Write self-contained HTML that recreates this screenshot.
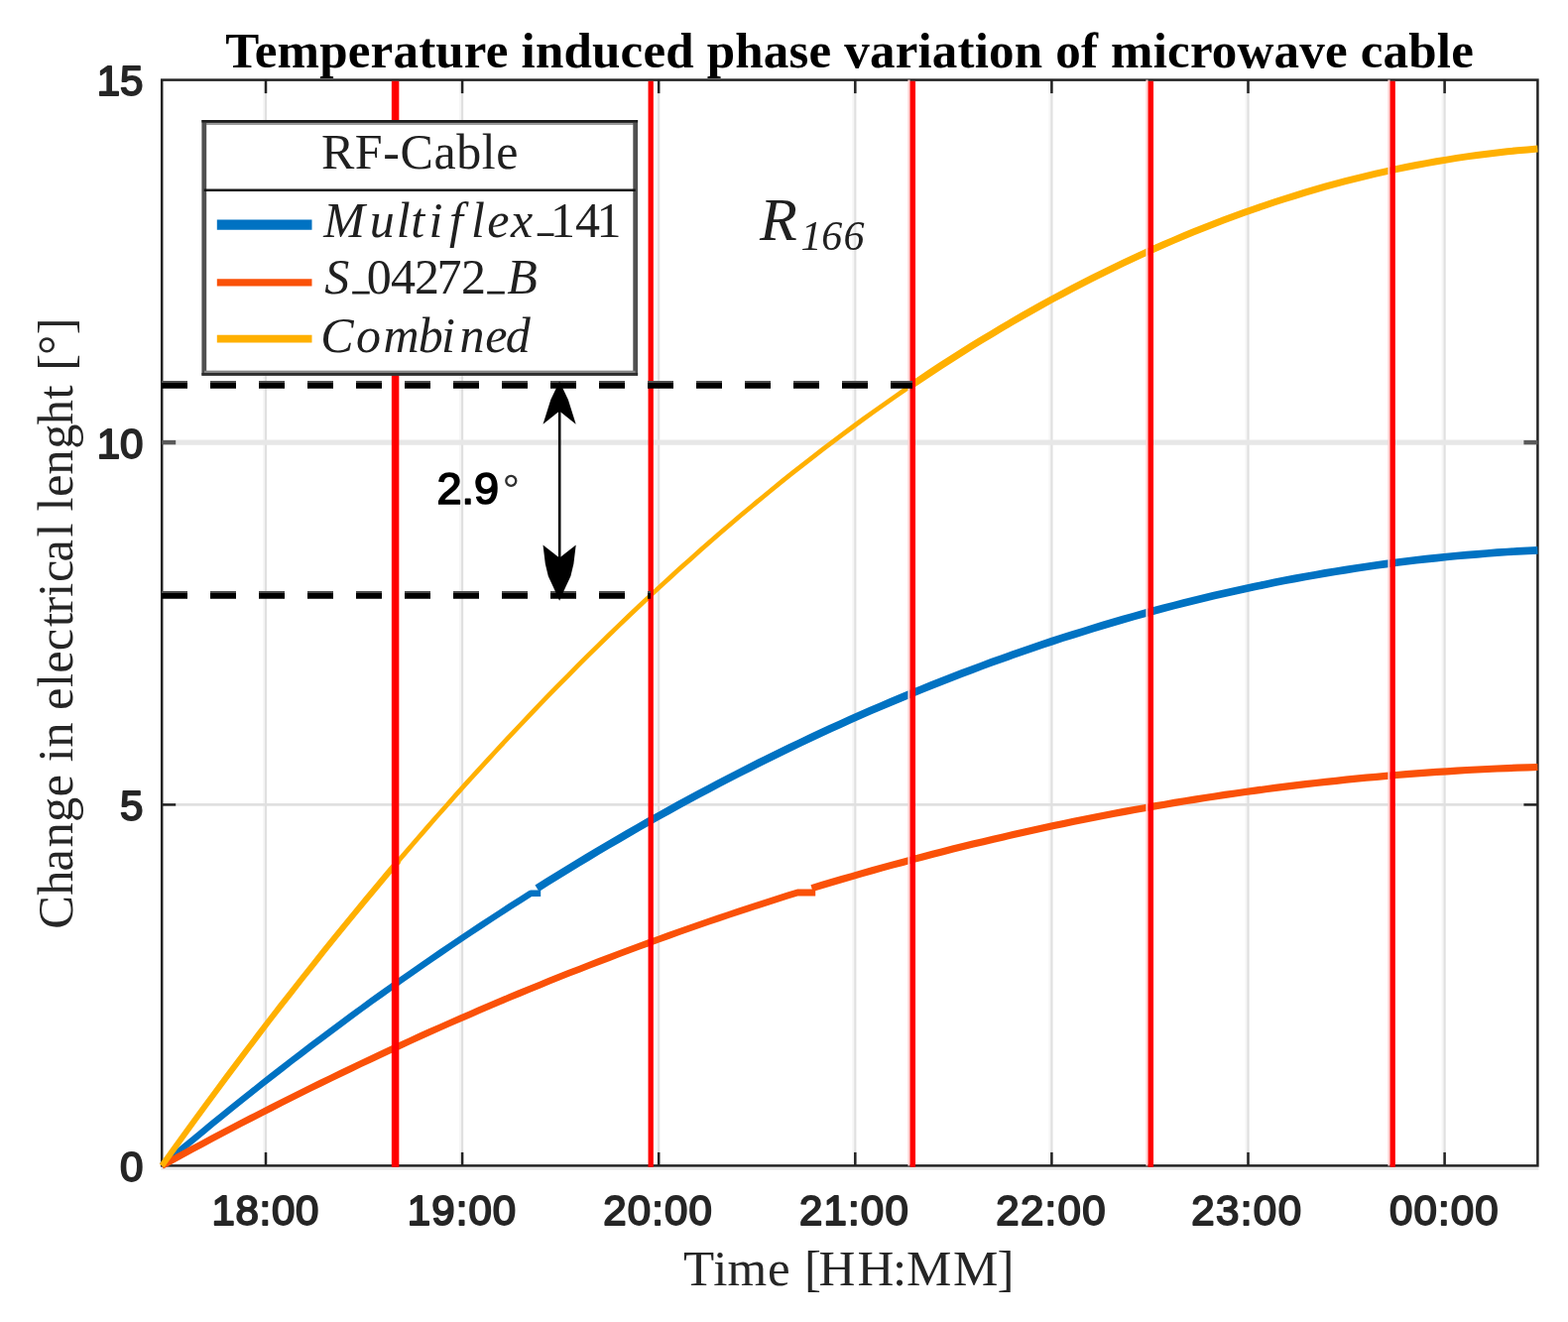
<!DOCTYPE html>
<html lang="en"><head><meta charset="utf-8"><title>Temperature induced phase variation of microwave cable</title>
<style>html,body{margin:0;padding:0;background:#fff}body{width:1581px;height:1333px;overflow:hidden}svg{display:block}.ser{font-family:"Liberation Serif","DejaVu Serif",serif}.san{font-family:"Liberation Sans","DejaVu Sans",sans-serif;font-weight:bold}</style></head><body>
<svg width="1581" height="1333" viewBox="0 0 1581 1333" role="img" aria-label="Temperature induced phase variation of microwave cable">
<rect width="1581" height="1333" fill="#ffffff"/>
<g stroke="#e0e0e0" fill="none">
<line x1="266.0" y1="80.6" x2="266.0" y2="1175.4" stroke-width="2" stroke="#f6f6f6"/>
<line x1="268.0" y1="80.6" x2="268.0" y2="1175.4" stroke-width="2.2"/>
<line x1="464.1" y1="80.6" x2="464.1" y2="1175.4" stroke-width="2" stroke="#f6f6f6"/>
<line x1="466.1" y1="80.6" x2="466.1" y2="1175.4" stroke-width="2.2"/>
<line x1="662.2" y1="80.6" x2="662.2" y2="1175.4" stroke-width="2" stroke="#f6f6f6"/>
<line x1="664.2" y1="80.6" x2="664.2" y2="1175.4" stroke-width="2.2"/>
<line x1="860.3" y1="80.6" x2="860.3" y2="1175.4" stroke-width="2" stroke="#f6f6f6"/>
<line x1="862.3" y1="80.6" x2="862.3" y2="1175.4" stroke-width="2.2"/>
<line x1="1058.4" y1="80.6" x2="1058.4" y2="1175.4" stroke-width="2" stroke="#f6f6f6"/>
<line x1="1060.4" y1="80.6" x2="1060.4" y2="1175.4" stroke-width="2.2"/>
<line x1="1256.5" y1="80.6" x2="1256.5" y2="1175.4" stroke-width="2" stroke="#f6f6f6"/>
<line x1="1258.5" y1="80.6" x2="1258.5" y2="1175.4" stroke-width="2.2"/>
<line x1="1454.6" y1="80.6" x2="1454.6" y2="1175.4" stroke-width="2" stroke="#f6f6f6"/>
<line x1="1456.6" y1="80.6" x2="1456.6" y2="1175.4" stroke-width="2.2"/>
<line x1="163.2" y1="811.4" x2="1550.4" y2="811.4" stroke-width="2.6"/>
<line x1="163.2" y1="446.1" x2="1550.4" y2="446.1" stroke-width="5.2" stroke="#e7e7e7"/>
</g>
<g stroke="#222222" fill="none" stroke-width="2.5">
<rect x="163.2" y="80.6" width="1387.2" height="1094.8"/>
<line x1="268.0" y1="1175.4" x2="268.0" y2="1161.9"/>
<line x1="268.0" y1="80.6" x2="268.0" y2="94.1"/>
<line x1="466.1" y1="1175.4" x2="466.1" y2="1161.9"/>
<line x1="466.1" y1="80.6" x2="466.1" y2="94.1"/>
<line x1="664.2" y1="1175.4" x2="664.2" y2="1161.9"/>
<line x1="664.2" y1="80.6" x2="664.2" y2="94.1"/>
<line x1="862.3" y1="1175.4" x2="862.3" y2="1161.9"/>
<line x1="862.3" y1="80.6" x2="862.3" y2="94.1"/>
<line x1="1060.4" y1="1175.4" x2="1060.4" y2="1161.9"/>
<line x1="1060.4" y1="80.6" x2="1060.4" y2="94.1"/>
<line x1="1258.5" y1="1175.4" x2="1258.5" y2="1161.9"/>
<line x1="1258.5" y1="80.6" x2="1258.5" y2="94.1"/>
<line x1="1456.6" y1="1175.4" x2="1456.6" y2="1161.9"/>
<line x1="1456.6" y1="80.6" x2="1456.6" y2="94.1"/>
<line x1="163.2" y1="811.4" x2="177.2" y2="811.4"/>
<line x1="1550.4" y1="811.4" x2="1536.4" y2="811.4"/>
<line x1="163.2" y1="446.1" x2="177.2" y2="446.1" stroke="#5a5a5a" stroke-width="4.4"/>
<line x1="1550.4" y1="446.1" x2="1536.4" y2="446.1" stroke="#5a5a5a" stroke-width="4.4"/>
</g>
<line x1="162.2" y1="1178.4" x2="1551.4" y2="1178.4" stroke="#e2e2e2" stroke-width="2"/>
<g fill="none" stroke-linejoin="round">
<path d="M163.2,1175.4 L173.3,1166.9 L183.3,1158.5 L193.4,1150.2 L203.4,1141.9 L213.5,1133.6 L223.5,1125.4 L233.6,1117.3 L243.6,1109.3 L253.7,1101.3 L263.7,1093.3 L273.8,1085.4 L283.8,1077.6 L293.9,1069.8 L304.0,1062.1 L314.0,1054.4 L324.1,1046.9 L334.1,1039.3 L344.2,1031.8 L354.2,1024.4 L364.3,1017.0 L374.3,1009.7 L384.4,1002.5 L394.4,995.3 L404.5,988.2 L414.6,981.1 L424.6,974.1 L434.7,967.1 L444.7,960.2 L454.8,953.4 L464.8,946.6 L474.9,939.9 L484.9,933.2 L495.0,926.6 L505.0,920.1 L515.1,913.6 L525.1,907.2 L535.2,900.8 L545.2,900.8" stroke="#0072c2" stroke-width="6.5"/>
<path d="M541.5,895.7 L551.7,889.3 L561.9,883.0 L572.1,876.7 L582.3,870.5 L592.5,864.4 L602.6,858.3 L612.8,852.2 L623.0,846.3 L633.2,840.4 L643.4,834.5 L653.6,828.7 L663.8,823.0 L674.0,817.3 L684.2,811.7 L694.4,806.2 L704.6,800.7 L714.7,795.3 L724.9,789.9 L735.1,784.6 L745.3,779.4 L755.5,774.2 L765.7,769.0 L775.9,764.0 L786.1,759.0 L796.3,754.0 L806.5,749.1 L816.7,744.3 L826.8,739.5 L837.0,734.8 L847.2,730.2 L857.4,725.6 L867.6,721.1 L877.8,716.6 L888.0,712.2 L898.2,707.9 L908.4,703.6 L918.6,699.4 L928.8,695.2 L938.9,691.1 L949.1,687.1 L959.3,683.1 L969.5,679.1 L979.7,675.3 L989.9,671.5 L1000.1,667.7 L1010.3,664.1 L1020.5,660.4 L1030.7,656.9 L1040.9,653.4 L1051.0,649.9 L1061.2,646.5 L1071.4,643.2 L1081.6,640.0 L1091.8,636.8 L1102.0,633.6 L1112.2,630.5 L1122.4,627.5 L1132.6,624.5 L1142.8,621.6 L1153.0,618.8 L1163.1,616.0 L1173.3,613.3 L1183.5,610.6 L1193.7,608.0 L1203.9,605.5 L1214.1,603.0 L1224.3,600.6 L1234.5,598.2 L1244.7,595.9 L1254.9,593.7 L1265.1,591.5 L1275.2,589.4 L1285.4,587.3 L1295.6,585.3 L1305.8,583.4 L1316.0,581.5 L1326.2,579.7 L1336.4,577.9 L1346.6,576.2 L1356.8,574.6 L1367.0,573.0 L1377.2,571.5 L1387.3,570.0 L1397.5,568.6 L1407.7,567.3 L1417.9,566.0 L1428.1,564.8 L1438.3,563.6 L1448.5,562.6 L1458.7,561.5 L1468.9,560.5 L1479.1,559.6 L1489.3,558.8 L1499.4,558.0 L1509.6,557.2 L1519.8,556.5 L1530.0,555.9 L1540.2,555.4 L1550.4,554.9" stroke="#0072c2" stroke-width="7.7"/>
<path d="M163.2,1175.4 L173.2,1169.9 L183.2,1164.5 L193.2,1159.0 L203.3,1153.7 L213.3,1148.3 L223.3,1143.0 L233.3,1137.8 L243.3,1132.5 L253.3,1127.4 L263.4,1122.2 L273.4,1117.1 L283.4,1112.0 L293.4,1107.0 L303.4,1102.0 L313.4,1097.0 L323.4,1092.1 L333.5,1087.2 L343.5,1082.4 L353.5,1077.6 L363.5,1072.8 L373.5,1068.1 L383.5,1063.4 L393.6,1058.7 L403.6,1054.1 L413.6,1049.5 L423.6,1044.9 L433.6,1040.4 L443.6,1036.0 L453.7,1031.5 L463.7,1027.1 L473.7,1022.8 L483.7,1018.4 L493.7,1014.2 L503.7,1009.9 L513.7,1005.7 L523.8,1001.5 L533.8,997.4 L543.8,993.3 L553.8,989.2 L563.8,985.2 L573.8,981.2 L583.9,977.3 L593.9,973.4 L603.9,969.5 L613.9,965.7 L623.9,961.9 L633.9,958.1 L644.0,954.4 L654.0,950.7 L664.0,947.1 L674.0,943.5 L684.0,939.9 L694.0,936.4 L704.0,932.9 L714.1,929.4 L724.1,926.0 L734.1,922.6 L744.1,919.3 L754.1,916.0 L764.1,912.7 L774.2,909.5 L784.2,906.3 L794.2,903.1 L804.2,900.0 L822.2,900.0" stroke="#fa5108" stroke-width="6.8"/>
<path d="M818.5,895.6 L828.7,892.5 L838.8,889.5 L849.0,886.5 L859.2,883.6 L869.3,880.6 L879.5,877.8 L889.7,874.9 L899.8,872.1 L910.0,869.4 L920.2,866.6 L930.3,864.0 L940.5,861.3 L950.6,858.7 L960.8,856.1 L971.0,853.6 L981.1,851.1 L991.3,848.7 L1001.5,846.2 L1011.6,843.9 L1021.8,841.5 L1032.0,839.2 L1042.1,837.0 L1052.3,834.8 L1062.5,832.6 L1072.6,830.4 L1082.8,828.3 L1093.0,826.3 L1103.1,824.2 L1113.3,822.3 L1123.5,820.3 L1133.6,818.4 L1143.8,816.5 L1154.0,814.7 L1164.1,812.9 L1174.3,811.2 L1184.5,809.4 L1194.6,807.8 L1204.8,806.1 L1214.9,804.5 L1225.1,803.0 L1235.3,801.4 L1245.4,800.0 L1255.6,798.5 L1265.8,797.1 L1275.9,795.7 L1286.1,794.4 L1296.3,793.1 L1306.4,791.9 L1316.6,790.7 L1326.8,789.5 L1336.9,788.4 L1347.1,787.3 L1357.3,786.2 L1367.4,785.2 L1377.6,784.2 L1387.8,783.3 L1397.9,782.4 L1408.1,781.5 L1418.3,780.7 L1428.4,779.9 L1438.6,779.1 L1448.7,778.4 L1458.9,777.8 L1469.1,777.1 L1479.2,776.5 L1489.4,776.0 L1499.6,775.5 L1509.7,775.0 L1519.9,774.6 L1530.1,774.2 L1540.2,773.8 L1550.4,773.5" stroke="#fa5108" stroke-width="7.2"/>
<path d="M163.2,1175.4 L174.1,1160.2 L184.9,1145.2 L195.8,1130.2 L206.6,1115.4 L217.5,1100.7 L228.3,1086.1 L239.2,1071.6 L250.0,1057.2 L260.9,1042.9 L271.7,1028.8 L282.6,1014.7 L293.5,1000.8 L304.3,987.0 L315.2,973.3 L326.0,959.7 L336.9,946.2 L347.7,932.9 L358.6,919.6 L369.4,906.5 L380.3,893.5 L391.1,880.5 L402.0,867.7" stroke="#ffb000" stroke-width="6.0"/>
<path d="M398.0,872.4 L408.3,860.4 L418.5,848.4 L428.8,836.6 L439.1,824.8 L449.4,813.2 L459.6,801.6 L469.9,790.2 L480.2,778.8 L490.5,767.6 L500.7,756.5 L511.0,745.4 L521.3,734.5 L531.6,723.6 L541.8,712.9 L552.1,702.2 L562.4,691.7 L572.7,681.3 L582.9,670.9 L593.2,660.7 L603.5,650.6 L613.8,640.5 L624.0,630.6 L634.3,620.8 L644.6,611.0 L654.9,601.4 L665.1,591.9 L675.4,582.5 L685.7,573.1 L696.0,563.9 L706.2,554.8 L716.5,545.8 L726.8,536.8 L737.1,528.0 L747.3,519.3 L757.6,510.7 L767.9,502.2 L778.2,493.7 L788.4,485.4 L798.7,477.2 L809.0,469.1 L819.3,461.1 L829.5,453.2 L839.8,445.4 L850.1,437.6 L860.4,430.0 L870.6,422.5 L880.9,415.1 L891.2,407.8 L901.5,400.6 L911.7,393.5 L922.0,386.5" stroke="#ffb000" stroke-width="4.7"/>
<path d="M918.0,389.2 L928.2,382.3 L938.4,375.5 L948.6,368.8 L958.8,362.2 L969.0,355.7 L979.2,349.3 L989.4,343.1 L999.6,336.9 L1009.8,330.8 L1020.0,324.8 L1030.2,318.9 L1040.4,313.1 L1050.6,307.4 L1060.8,301.8 L1071.0,296.3 L1081.2,290.9 L1091.4,285.6 L1101.6,280.4 L1111.8,275.3 L1122.0,270.3 L1132.2,265.4 L1142.4,260.6 L1152.6,255.9 L1162.8,251.3 L1173.0,246.8 L1183.2,242.4 L1193.4,238.0 L1203.6,233.8 L1213.8,229.7 L1224.0,225.7 L1234.2,221.8 L1244.4,218.0 L1254.6,214.3 L1264.8,210.7 L1275.0,207.2 L1285.2,203.8 L1295.4,200.5 L1305.6,197.3 L1315.8,194.2 L1326.0,191.1 L1336.2,188.2 L1346.4,185.4 L1356.6,182.7 L1366.8,180.1 L1377.0,177.6 L1387.2,175.2 L1397.4,172.9 L1407.6,170.6 L1417.8,168.5 L1428.0,166.5 L1438.2,164.6 L1448.4,162.8 L1458.6,161.1 L1468.8,159.4 L1479.0,157.9 L1489.2,156.5 L1499.4,155.2 L1509.6,154.0 L1519.8,152.8 L1530.0,151.8 L1540.2,150.9 L1550.4,150.1" stroke="#ffb000" stroke-width="7"/>
</g>
<g stroke="#ff0000" fill="none">
<line x1="398.6" y1="81.8" x2="398.6" y2="1176.8" stroke-width="7.5"/>
<line x1="656.2" y1="81.8" x2="656.2" y2="1176.8" stroke-width="5.3"/>
<line x1="916.5" y1="80.6" x2="916.5" y2="1175.4" stroke-width="2.2" stroke="#ffd2d2"/>
<line x1="920.3" y1="81.8" x2="920.3" y2="1176.8" stroke-width="5.5"/>
<line x1="1156.5" y1="80.6" x2="1156.5" y2="1175.4" stroke-width="2.2" stroke="#ffd2d2"/>
<line x1="1160.3" y1="81.8" x2="1160.3" y2="1176.8" stroke-width="5.5"/>
<line x1="1400.5" y1="80.6" x2="1400.5" y2="1175.4" stroke-width="2.2" stroke="#ffd2d2"/>
<line x1="1404.2" y1="81.8" x2="1404.2" y2="1176.8" stroke-width="5.3"/>
</g>
<g fill="none" stroke-dasharray="26 23">
<line x1="163" y1="385.1" x2="920" y2="385.1" stroke="#4d4d4d" stroke-width="2.2"/>
<line x1="163" y1="388.9" x2="920" y2="388.9" stroke="#000000" stroke-width="5.8"/>
<line x1="163" y1="597.0" x2="656" y2="597.0" stroke="#4d4d4d" stroke-width="2.2"/>
<line x1="163" y1="600.8" x2="656" y2="600.8" stroke="#000000" stroke-width="5.8"/>
</g>
<g fill="#000000" stroke="none">
<rect x="562.9" y="400" width="2.6" height="180"/>
<polygon points="564.1,384.4 572.9,403 580.7,427.8 564.1,414.6 547.5,427.8 555.3,403"/>
<polygon points="547.5,549.5 564.1,562.5 580.7,549.5 578.4,568.5 575.4,581.1 570.4,591.8 564.1,605.8 557.8,591.8 552.8,581.1 549.8,568.5"/>
</g>
<rect x="205.8" y="123.4" width="434.9" height="252.9" fill="#ffffff" stroke="#505050" stroke-width="4.8"/>
<line x1="203.4" y1="122.3" x2="643.1" y2="122.3" stroke="#1c1c1c" stroke-width="2.6"/>
<line x1="208.2" y1="124.9" x2="638.3" y2="124.9" stroke="#9a9a9a" stroke-width="2"/>
<line x1="206" y1="374.9" x2="640.5" y2="374.9" stroke="#858585" stroke-width="2.2"/>
<line x1="203.4" y1="377.4" x2="643.1" y2="377.4" stroke="#2e2e2e" stroke-width="2.8"/>
<line x1="205.8" y1="191.7" x2="640.7" y2="191.7" stroke="#111111" stroke-width="2.6"/>
<line x1="218.8" y1="226.7" x2="314.5" y2="226.7" stroke="#0072c2" stroke-width="10.2"/>
<line x1="218.8" y1="284.9" x2="314.5" y2="284.9" stroke="#fa5108" stroke-width="7.4"/>
<line x1="218.8" y1="341.6" x2="314.5" y2="341.6" stroke="#ffb000" stroke-width="7.6"/>
<text class="ser" id="t_title" x="856.6" y="68.1" font-size="51" font-weight="bold" text-anchor="middle" letter-spacing="0.19" fill="#000000">Temperature induced phase variation of microwave cable</text>
<text class="ser" id="t_leg" x="423.5" y="170" font-size="50" text-anchor="middle" letter-spacing="0.6" fill="#202020">RF-Cable</text>
<text class="ser" xml:space="preserve" fill="#202020"><tspan x="326.3 372.7 399.8 414.2 432.6 453.0 475.1 491.2 515.1" y="238.6" font-size="50.0" font-style="italic">Multiflex</tspan><tspan x="542.4" y="234.3" font-size="30.4" stroke="#202020" stroke-width="1.1">_</tspan><tspan x="554.9 580.0 601.4" y="238.6" font-size="50.0">141</tspan></text>
<text class="ser" xml:space="preserve" fill="#202020"><tspan x="327.2" y="296.4" font-size="50.0" font-style="italic">S</tspan><tspan x="356.0" y="291.9" font-size="31.8" stroke="#202020" stroke-width="1.1">_</tspan><tspan x="369.8 393.9 417.9 440.4 464.9" y="296.4" font-size="50.0">04272</tspan><tspan x="492.0" y="291.9" font-size="32.0" stroke="#202020" stroke-width="1.1">_</tspan><tspan x="511.2" y="296.4" font-size="50.0" font-style="italic">B</tspan></text>
<text class="ser" xml:space="preserve" fill="#202020"><tspan x="323.2 359.1 386.6 421.7 445.0 463.4 489.3 509.7" y="354.5" font-size="50.0" font-style="italic">Combined</tspan></text>
<text class="ser" xml:space="preserve" fill="#202020"><tspan x="766.0" y="241.9" font-size="62.0" font-style="italic">R</tspan><tspan x="807.6 828.3 850.6" y="252.0" font-size="42.0" font-style="italic">166</tspan></text>
<text class="san" id="t_29" fill="#000000" style="font-weight:normal"><tspan x="440.6" y="507.6" font-size="45" stroke="#000000" stroke-width="1.7" stroke-linejoin="round">2.9</tspan><tspan x="506.6" y="509.6" font-size="44" fill="#303030">°</tspan></text>
<text class="ser" xml:space="preserve" fill="#262626"><tspan x="689.1 719.2 733.5 774.0 799.0 811.0 825.5 864.4 900.0 914.1 961.1 1005.5" y="1296.0" font-size="51.0">Time [HH:MM]</tspan></text>
<g transform="translate(73.3,936.0) rotate(-90)">
<text class="ser" xml:space="preserve" fill="#262626"><tspan x="-0.7 33.2 57.5 81.4 107.1 132.5 156.0 167.7 182.3 209.0 220.1 242.9 257.2 279.8 303.9 317.6 334.3 348.9 369.5 394.6 408.0 420.6 434.9 457.2 483.3 507.8 533.5 549.0 562.2 578.0 598.7" y="0.0" font-size="50.5">Change in electrical lenght [°]</tspan></text>
</g>
<g class="san" font-size="42" fill="#262626" stroke="#262626" stroke-width="1.9" stroke-linejoin="round" style="font-weight:normal">
<text x="144.4" y="96.1" text-anchor="end">15</text>
<text x="144.4" y="461.6" text-anchor="end">10</text>
<text x="144.4" y="826.9" text-anchor="end">5</text>
<text x="144.4" y="1190.9" text-anchor="end">0</text>
<text x="213.44" y="1235.0" letter-spacing="0.69">18:00</text>
<text x="410.72" y="1235.0" letter-spacing="1.10">19:00</text>
<text x="608.19" y="1235.0" letter-spacing="1.14">20:00</text>
<text x="805.91" y="1235.0" letter-spacing="1.19">21:00</text>
<text x="1004.30" y="1235.0" letter-spacing="1.28">22:00</text>
<text x="1201.19" y="1235.0" letter-spacing="1.43">23:00</text>
<text x="1401.04" y="1235.0" letter-spacing="1.11">00:00</text>
</g>
</svg></body></html>
